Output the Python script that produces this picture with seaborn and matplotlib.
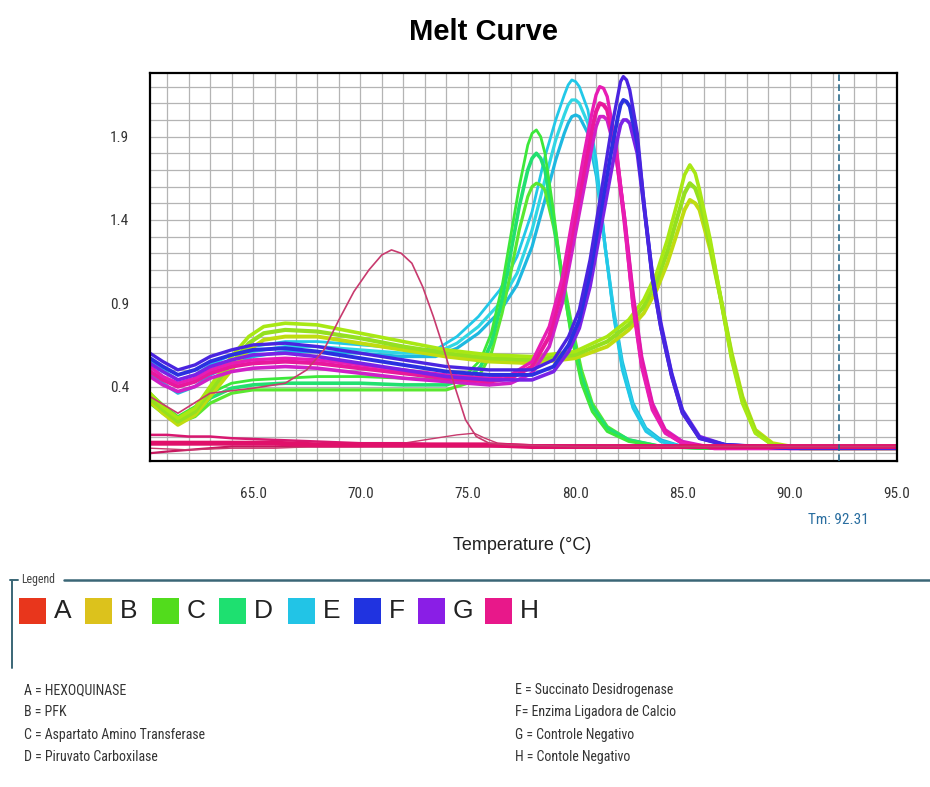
import matplotlib
matplotlib.use("Agg")
import matplotlib.pyplot as plt
import matplotlib.font_manager as fm
from matplotlib.ticker import MultipleLocator, FixedLocator
from matplotlib.patches import Rectangle
from matplotlib.lines import Line2D
import seaborn as sns
import pandas as pd

# ---------------- data ----------------
T_green = [60.2, 60.8, 61.5, 62.3, 63.0, 64.0, 65.0, 66.5, 68.0, 70.0, 72.0, 74.0, 75.0, 75.6, 76.1, 76.6,
           77.0, 77.4, 77.8, 78.0, 78.2, 78.4, 78.6, 79.0, 79.4, 79.8, 80.3, 80.8, 81.5, 82.5, 84.0, 86.0, 90.0, 95.0]
green_hi = [0.36, 0.29, 0.22, 0.28, 0.36, 0.42, 0.44, 0.45, 0.46, 0.46, 0.45, 0.44, 0.48, 0.56, 0.72, 1.00,
            1.30, 1.60, 1.85, 1.92, 1.94, 1.90, 1.80, 1.45, 1.05, 0.72, 0.42, 0.25, 0.13, 0.07, 0.04, 0.03, 0.03, 0.03]
green_mid = [0.32, 0.26, 0.19, 0.24, 0.33, 0.39, 0.41, 0.42, 0.42, 0.42, 0.41, 0.41, 0.45, 0.52, 0.66, 0.92,
             1.20, 1.48, 1.70, 1.77, 1.80, 1.77, 1.70, 1.40, 1.05, 0.75, 0.46, 0.28, 0.15, 0.08, 0.04, 0.03, 0.03, 0.03]
green_lo = [0.30, 0.24, 0.18, 0.22, 0.30, 0.36, 0.38, 0.38, 0.38, 0.38, 0.38, 0.38, 0.42, 0.48, 0.60, 0.84,
            1.08, 1.34, 1.54, 1.60, 1.62, 1.61, 1.58, 1.36, 1.08, 0.80, 0.50, 0.30, 0.16, 0.08, 0.04, 0.03, 0.03, 0.03]

T_cyan = [60.2, 60.8, 61.5, 62.3, 63.0, 64.0, 65.0, 66.5, 68.0, 70.0, 72.0, 73.5, 74.5, 75.5, 76.5, 77.3, 78.0,
          78.6, 79.1, 79.5, 79.68, 79.85, 80.03, 80.2, 80.6, 81.0, 81.4, 81.8, 82.2, 82.7, 83.3, 84.0, 85.0, 87.0,
          90.0, 95.0]
cyan_hi = [0.56, 0.50, 0.44, 0.47, 0.53, 0.59, 0.64, 0.67, 0.67, 0.65, 0.63, 0.62, 0.70, 0.82, 0.98, 1.18, 1.45,
           1.78, 2.00, 2.15, 2.21, 2.24, 2.23, 2.20, 2.06, 1.75, 1.25, 0.82, 0.50, 0.27, 0.13, 0.07, 0.04, 0.03,
           0.03, 0.03]
cyan_mid = [0.52, 0.46, 0.40, 0.43, 0.50, 0.56, 0.61, 0.64, 0.64, 0.62, 0.60, 0.60, 0.66, 0.76, 0.90, 1.08, 1.34,
            1.64, 1.88, 2.03, 2.09, 2.12, 2.12, 2.10, 1.98, 1.70, 1.24, 0.84, 0.52, 0.28, 0.14, 0.07, 0.04, 0.03,
            0.03, 0.03]
cyan_lo = [0.48, 0.42, 0.36, 0.40, 0.47, 0.53, 0.58, 0.61, 0.61, 0.60, 0.58, 0.58, 0.63, 0.72, 0.85, 1.01, 1.24,
           1.52, 1.76, 1.92, 1.98, 2.02, 2.03, 2.02, 1.92, 1.66, 1.24, 0.86, 0.55, 0.30, 0.15, 0.08, 0.04, 0.03,
           0.03, 0.03]

T_mag = [60.2, 60.8, 61.5, 62.3, 63.0, 64.0, 65.0, 66.5, 68.0, 70.0, 72.0, 74.0, 76.0, 77.0, 78.0, 78.8,
         79.4, 79.9, 80.4, 80.8, 80.98, 81.15, 81.33, 81.5, 81.9, 82.3, 82.7, 83.1, 83.6, 84.2, 85.0, 86.5, 90.0, 95.0]
mag_hi = [0.52, 0.46, 0.42, 0.45, 0.50, 0.54, 0.56, 0.57, 0.56, 0.53, 0.50, 0.47, 0.45, 0.47, 0.55, 0.76,
          1.05, 1.42, 1.78, 2.05, 2.15, 2.20, 2.19, 2.14, 1.86, 1.40, 0.88, 0.52, 0.26, 0.12, 0.06, 0.03, 0.03, 0.03]
mag_mid = [0.49, 0.44, 0.40, 0.43, 0.48, 0.52, 0.54, 0.55, 0.54, 0.51, 0.48, 0.45, 0.43, 0.45, 0.52, 0.70,
           0.98, 1.34, 1.68, 1.95, 2.05, 2.10, 2.09, 2.06, 1.82, 1.40, 0.92, 0.55, 0.28, 0.13, 0.06, 0.03, 0.03, 0.03]
mag_lo = [0.46, 0.41, 0.37, 0.40, 0.45, 0.49, 0.51, 0.52, 0.51, 0.48, 0.45, 0.43, 0.41, 0.42, 0.48, 0.64,
          0.90, 1.24, 1.58, 1.85, 1.96, 2.02, 2.02, 2.00, 1.80, 1.42, 0.96, 0.58, 0.30, 0.14, 0.07, 0.03, 0.03, 0.03]

T_blue = [60.2, 60.8, 61.5, 62.3, 63.0, 64.0, 65.0, 66.5, 68.0, 70.0, 72.0, 74.0, 76.0, 78.0, 79.0, 79.7, 80.2,
          80.7, 81.2, 81.7, 82.0, 82.12, 82.25, 82.4, 82.55, 82.9, 83.25, 83.6, 84.0, 84.5, 85.0, 85.8, 87.0,
          90.0, 95.0]
blue_hi = [0.60, 0.55, 0.50, 0.53, 0.58, 0.62, 0.65, 0.66, 0.64, 0.60, 0.56, 0.52, 0.50, 0.50, 0.56, 0.70, 0.86,
           1.16, 1.55, 1.95, 2.15, 2.23, 2.26, 2.24, 2.18, 1.92, 1.45, 1.05, 0.75, 0.46, 0.24, 0.09, 0.05,
           0.03, 0.03]
blue_mid = [0.57, 0.52, 0.47, 0.50, 0.55, 0.59, 0.62, 0.63, 0.61, 0.57, 0.53, 0.49, 0.47, 0.47, 0.52, 0.65, 0.80,
            1.08, 1.45, 1.82, 2.02, 2.09, 2.12, 2.11, 2.08, 1.86, 1.45, 1.06, 0.76, 0.47, 0.25, 0.09, 0.05,
            0.03, 0.03]
blue_lo = [0.54, 0.49, 0.44, 0.47, 0.52, 0.56, 0.59, 0.60, 0.58, 0.54, 0.50, 0.46, 0.44, 0.44, 0.49, 0.61, 0.75,
           1.00, 1.35, 1.70, 1.90, 1.97, 2.00, 2.00, 1.98, 1.80, 1.44, 1.08, 0.78, 0.48, 0.26, 0.10, 0.05,
           0.03, 0.03]

T_lime = [60.2, 60.8, 61.5, 62.3, 63.0, 64.0, 64.8, 65.5, 66.5, 68.0, 70.0, 72.0, 74.0, 76.0, 78.0, 80.0,
          81.5, 82.5, 83.2, 83.8, 84.3, 84.8, 85.1, 85.35, 85.6, 85.8, 86.3, 86.8, 87.3, 87.8, 88.4, 89.2, 90.5, 95.0]
lime_hi = [0.36, 0.28, 0.21, 0.27, 0.40, 0.58, 0.70, 0.76, 0.78, 0.77, 0.72, 0.67, 0.62, 0.59, 0.58, 0.61,
           0.70, 0.80, 0.92, 1.08, 1.28, 1.52, 1.67, 1.73, 1.68, 1.58, 1.28, 0.92, 0.56, 0.30, 0.12, 0.05, 0.03, 0.03]
lime_mid = [0.33, 0.26, 0.19, 0.25, 0.37, 0.54, 0.66, 0.72, 0.74, 0.73, 0.69, 0.64, 0.60, 0.57, 0.56, 0.59,
            0.67, 0.77, 0.88, 1.03, 1.21, 1.43, 1.56, 1.62, 1.59, 1.52, 1.25, 0.92, 0.58, 0.32, 0.13, 0.05, 0.03, 0.03]
lime_lo = [0.31, 0.24, 0.17, 0.23, 0.34, 0.50, 0.62, 0.68, 0.70, 0.70, 0.66, 0.62, 0.58, 0.55, 0.54, 0.57,
           0.64, 0.74, 0.84, 0.98, 1.14, 1.34, 1.46, 1.52, 1.50, 1.46, 1.22, 0.92, 0.60, 0.34, 0.14, 0.06, 0.03, 0.03]

T_pink = [60.2, 61.0, 62.0, 63.0, 64.0, 66.0, 68.0, 70.0, 72.0, 74.0, 76.0, 78.0, 80.0, 85.0, 90.0, 95.0]
pink_1 = [0.11, 0.11, 0.10, 0.10, 0.09, 0.08, 0.07, 0.06, 0.06, 0.05, 0.05, 0.04, 0.04, 0.04, 0.04, 0.04]
pink_2 = [0.06, 0.06, 0.06, 0.06, 0.06, 0.06, 0.05, 0.05, 0.05, 0.05, 0.05, 0.04, 0.04, 0.04, 0.04, 0.04]
pink_3 = [0.00, 0.01, 0.02, 0.03, 0.04, 0.04, 0.04, 0.04, 0.04, 0.04, 0.04, 0.04, 0.04, 0.04, 0.04, 0.04]
T_pink_b = [60.2, 62.0, 64.0, 66.0, 68.0, 70.0, 71.5, 72.5, 73.5, 74.5, 75.3, 75.8, 76.4, 78.0, 85.0, 95.0]
pink_bump = [0.03, 0.02, 0.03, 0.03, 0.04, 0.04, 0.05, 0.07, 0.09, 0.11, 0.12, 0.09, 0.06, 0.05, 0.04, 0.04]

T_crim = [60.2, 61.5, 63.0, 65.0, 66.5, 67.5, 68.3, 69.0, 69.7, 70.4, 71.0, 71.45, 71.9, 72.4, 72.9,
          73.4, 73.9, 74.4, 74.9, 75.4, 76.0, 77.0, 80.0, 85.0, 90.0, 95.0]
crim = [0.34, 0.24, 0.36, 0.39, 0.42, 0.50, 0.62, 0.80, 0.97, 1.10, 1.19, 1.22, 1.20, 1.14, 1.00,
        0.82, 0.62, 0.40, 0.20, 0.10, 0.06, 0.05, 0.04, 0.04, 0.04, 0.04]

tm_value = 92.31
x_ticks = [65.0, 70.0, 75.0, 80.0, 85.0, 90.0, 95.0]
y_ticks = [0.4, 0.9, 1.4, 1.9]
legend_keys = ["A", "B", "C", "D", "E", "F", "G", "H"]
legend_colors = ["#e8361c", "#dcc21c", "#52dc1c", "#1ee070", "#22c4e6", "#2033e0", "#8a1ee6", "#e8188a"]
desc_left = ["A = HEXOQUINASE", "B = PFK", "C = Aspartato Amino Transferase", "D = Piruvato Carboxilase"]
desc_right = ["E = Succinato Desidrogenase", "F= Enzima Ligadora de Calcio", "G = Controle Negativo",
              "H = Contole Negativo"]

# ---------------- fonts ----------------
def pick(names):
    for n in names:
        try:
            fm.findfont(fm.FontProperties(family=n), fallback_to_default=False)
            return n
        except Exception:
            pass
    return "DejaVu Sans"

sns.set_style("white")
NARROW = pick(["Liberation Sans Narrow", "Roboto Condensed", "DejaVu Sans Condensed", "Liberation Sans"])
SANS = pick(["Liberation Sans", "DejaVu Sans"])
plt.rcParams["font.family"] = [NARROW, "DejaVu Sans"]

W, H = 930, 787
fig = plt.figure(figsize=(W / 100, H / 100), dpi=100)
fig.patch.set_facecolor("white")

def fx(px):
    return px / W

def fy(py):
    return 1 - py / H

ax = fig.add_axes([fx(150), fy(460.7), (897 - 150) / W, (460.7 - 73.3) / H])

series = [
    (T_cyan, cyan_lo, "#1eb8e0", 2.3), (T_cyan, cyan_mid, "#30d6e4", 2.3), (T_cyan, cyan_hi, "#22c8e8", 2.0),
    (T_green, green_lo, "#5ae830", 2.3), (T_green, green_mid, "#22e070", 2.6), (T_green, green_hi, "#3ce83a", 2.0),
    (T_lime, lime_lo, "#c0dc10", 2.8), (T_lime, lime_mid, "#94e020", 3.0), (T_lime, lime_hi, "#a8e814", 2.6),
    (T_mag, mag_lo, "#d020c8", 2.6), (T_mag, mag_mid, "#e8189c", 3.0), (T_mag, mag_hi, "#e81cb4", 2.4),
    (T_blue, blue_lo, "#7a22e6", 2.6), (T_blue, blue_mid, "#2a30e0", 2.8), (T_blue, blue_hi, "#4a24e0", 2.4),
    (T_pink, pink_3, "#c81860", 1.6), (T_pink, pink_1, "#d81870", 1.8), (T_pink_b, pink_bump, "#c83a6e", 1.0),
    (T_pink, pink_2, "#e0106a", 3.6),
    (T_crim, crim, "#c83a6e", 1.2),
]
for T, Y, c, lw in series:
    df = pd.DataFrame({"T": T, "F": Y})
    sns.lineplot(data=df, x="T", y="F", color=c, linewidth=lw, ax=ax, estimator=None,
                 sort=False, legend=False, solid_joinstyle="round", solid_capstyle="round")

ax.axvline(tm_value, color="#2a6a8a", lw=1.2, ls=(0, (4, 2)), zorder=5)

ax.set_xlim(60.2, 95.0)
ax.set_ylim(-0.045, 2.28)
ax.xaxis.set_major_locator(FixedLocator(x_ticks))
ax.xaxis.set_minor_locator(MultipleLocator(1))
ax.yaxis.set_major_locator(FixedLocator(y_ticks))
ax.yaxis.set_minor_locator(MultipleLocator(0.1))
ax.set_xticklabels([f"{v:.1f}" for v in x_ticks])
ax.set_yticklabels([f"{v:.1f}" for v in y_ticks])
ax.grid(True, which="both", color="#b4b4b4", lw=0.9)
ax.set_axisbelow(True)
ax.tick_params(axis="x", which="both", direction="out", length=5, width=0.8, color="#777777",
               pad=14, labelsize=11, labelcolor="#333333")
ax.tick_params(axis="y", which="both", direction="out", length=5, width=0.8, color="#777777",
               pad=10, labelsize=11, labelcolor="#333333")
for s in ax.spines.values():
    s.set_color("black")
    s.set_linewidth(1.6)
ax.set_xlabel("")
ax.set_ylabel("")

fig.text(fx(483), fy(32), "Melt Curve", ha="center", va="center", fontsize=21, fontweight="bold",
         family=[SANS, "DejaVu Sans"], color="black")
fig.text(fx(522), fy(546), "Temperature (°C)", ha="center", va="center", fontsize=13,
         family=[SANS, "DejaVu Sans"], color="#222222")
fig.text(fx(838), fy(520), "Tm: 92.31", ha="center", va="center", fontsize=11, color="#2a6ea0")

# legend group box
fig.add_artist(Line2D([fx(10), fx(18)], [fy(580), fy(580)], color="#3a6676", lw=1.4))
fig.add_artist(Line2D([fx(64), fx(930)], [fy(580), fy(580)], color="#3a6676", lw=1.8))
fig.add_artist(Line2D([fx(12), fx(12)], [fy(580), fy(668)], color="#3a6676", lw=1.4))
fig.text(fx(21), fy(579), "Legend", ha="left", va="center", fontsize=8.5, color="#444444")

sq_x = [19, 85, 152, 219, 288, 354, 418, 485]
for x0, k, c in zip(sq_x, legend_keys, legend_colors):
    fig.add_artist(Rectangle((fx(x0), fy(624)), 27 / W, 26 / H, facecolor=c, edgecolor="none"))
    fig.text(fx(x0 + 35), fy(611), k, ha="left", va="center", fontsize=19,
             family=[SANS, "DejaVu Sans"], color="#222222")

rows_y = [690, 712, 735, 757]
for yy, t in zip(rows_y, desc_left):
    fig.text(fx(24), fy(yy), t, ha="left", va="center", fontsize=10, color="#333333",
             family=[NARROW, "DejaVu Sans"])
for yy, t in zip(rows_y, desc_right):
    fig.text(fx(515), fy(yy), t, ha="left", va="center", fontsize=10, color="#333333",
             family=[NARROW, "DejaVu Sans"])

fig.savefig("out.png", dpi=100, facecolor="white")
